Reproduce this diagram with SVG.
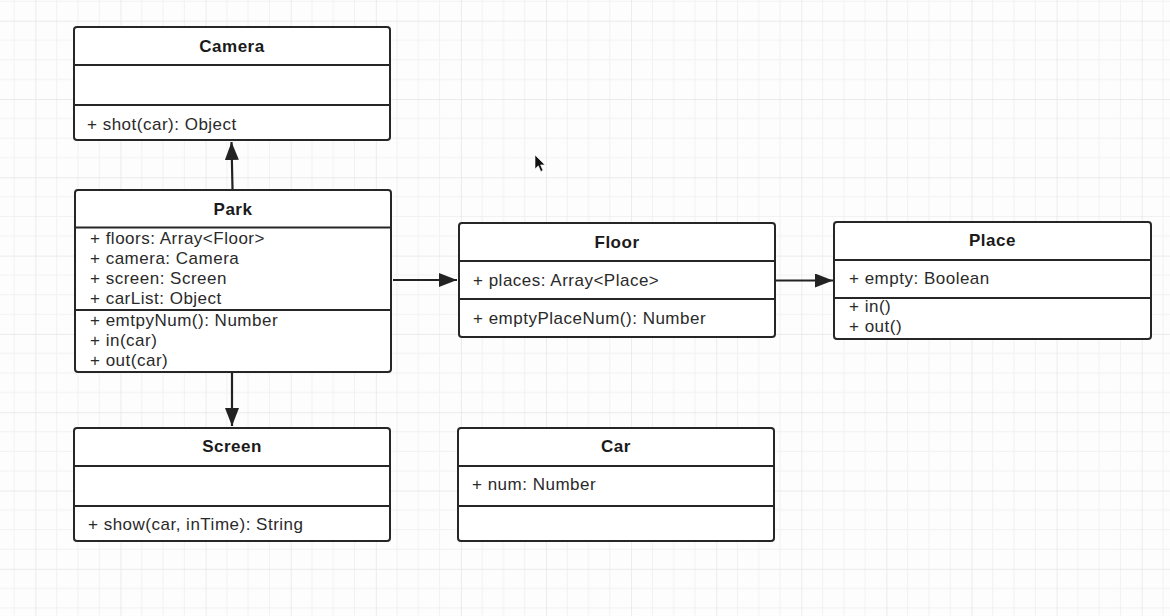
<svg xmlns="http://www.w3.org/2000/svg" width="1170" height="616" viewBox="0 0 1170 616">
  <defs>
    <pattern id="grid" patternUnits="userSpaceOnUse" x="35.4" y="20.7" width="85.1" height="78.3">
      <g stroke="#f1f1f1" stroke-width="1">
        <line x1="21.3" y1="0" x2="21.3" y2="78.3"/>
        <line x1="42.55" y1="0" x2="42.55" y2="78.3"/>
        <line x1="63.8" y1="0" x2="63.8" y2="78.3"/>
        <line x1="0" y1="19.6" x2="85.1" y2="19.6"/>
        <line x1="0" y1="39.15" x2="85.1" y2="39.15"/>
        <line x1="0" y1="58.7" x2="85.1" y2="58.7"/>
      </g>
      <g stroke="#e4e4e4" stroke-width="1.4">
        <line x1="0" y1="0" x2="0" y2="78.3"/>
        <line x1="0" y1="0" x2="85.1" y2="0"/>
      </g>
    </pattern>
    <marker id="arrow" markerUnits="userSpaceOnUse" markerWidth="19" markerHeight="15" refX="18" refY="7" orient="auto">
      <path d="M0,0 L18,7 L0,14 Z" fill="#222"/>
    </marker>
  </defs>
  <style>
    .box { fill: #ffffff; stroke: #262626; stroke-width: 2; }
    .sep { stroke: #262626; stroke-width: 2; }
    .title { font-family: "Liberation Sans", Arial, sans-serif; font-size: 17px; font-weight: bold; fill: #1a1a1a; text-anchor: middle; letter-spacing: 0.5px; }
    .txt { font-family: "Liberation Sans", Arial, sans-serif; font-size: 17px; fill: #2a2a2a; letter-spacing: 0.5px; }
    .conn { stroke: #222; stroke-width: 2.2; fill: none; marker-end: url(#arrow); }
  </style>

  <rect x="0" y="0" width="1170" height="616" fill="#fdfdfd"/>
  <rect x="0" y="0" width="1170" height="616" fill="url(#grid)"/>

  <g id="connectors">
    <line class="conn" x1="232.5" y1="189" x2="231.5" y2="142"/>
    <line class="conn" x1="393" y1="280" x2="457" y2="280"/>
    <line class="conn" x1="776" y1="280.5" x2="833" y2="280.5"/>
    <line class="conn" x1="232" y1="373" x2="232" y2="426"/>
  </g>

  <g id="camera">
    <rect class="box" x="74" y="27" width="316" height="113" rx="3"/>
    <line class="sep" x1="74" y1="65" x2="390" y2="65"/>
    <line class="sep" x1="74" y1="105" x2="390" y2="105"/>
    <text class="title" x="232" y="52">Camera</text>
    <text class="txt" x="87" y="130">+ shot(car): Object</text>
  </g>

  <g id="park">
    <rect class="box" x="75" y="190" width="316" height="182" rx="3"/>
    <line class="sep" x1="75" y1="227.5" x2="391" y2="227.5"/>
    <line class="sep" x1="75" y1="310" x2="391" y2="310"/>
    <text class="title" x="233" y="215">Park</text>
    <text class="txt" x="90" y="243.5">+ floors: Array&lt;Floor&gt;</text>
    <text class="txt" x="90" y="263.5">+ camera: Camera</text>
    <text class="txt" x="90" y="283.5">+ screen: Screen</text>
    <text class="txt" x="90" y="303.5">+ carList: Object</text>
    <text class="txt" x="90" y="326">+ emtpyNum(): Number</text>
    <text class="txt" x="90" y="346">+ in(car)</text>
    <text class="txt" x="90" y="366">+ out(car)</text>
  </g>

  <g id="floor">
    <rect class="box" x="459" y="223" width="316" height="114" rx="3"/>
    <line class="sep" x1="459" y1="261" x2="775" y2="261"/>
    <line class="sep" x1="459" y1="299" x2="775" y2="299"/>
    <text class="title" x="617" y="247.5">Floor</text>
    <text class="txt" x="473" y="286">+ places: Array&lt;Place&gt;</text>
    <text class="txt" x="473" y="324">+ emptyPlaceNum(): Number</text>
  </g>

  <g id="place">
    <rect class="box" x="834" y="222" width="317" height="117" rx="3"/>
    <line class="sep" x1="834" y1="260" x2="1151" y2="260"/>
    <line class="sep" x1="834" y1="298" x2="1151" y2="298"/>
    <text class="title" x="992.5" y="246">Place</text>
    <text class="txt" x="849" y="284">+ empty: Boolean</text>
    <text class="txt" x="849" y="312">+ in()</text>
    <text class="txt" x="849" y="332">+ out()</text>
  </g>

  <g id="screen">
    <rect class="box" x="74" y="428" width="316" height="113" rx="3"/>
    <line class="sep" x1="74" y1="466" x2="390" y2="466"/>
    <line class="sep" x1="74" y1="506" x2="390" y2="506"/>
    <text class="title" x="232" y="452">Screen</text>
    <text class="txt" x="88" y="530">+ show(car, inTime): String</text>
  </g>

  <g id="car">
    <rect class="box" x="458" y="428" width="316" height="113" rx="3"/>
    <line class="sep" x1="458" y1="466" x2="774" y2="466"/>
    <line class="sep" x1="458" y1="506" x2="774" y2="506"/>
    <text class="title" x="616" y="452">Car</text>
    <text class="txt" x="472" y="490">+ num: Number</text>
  </g>

  <path d="M535,155 L535,169 L538.3,165.8 L540.8,171.5 L543,170.5 L540.6,164.9 L545,164.9 Z" fill="#111" stroke="#fff" stroke-width="0.6"/>
</svg>
